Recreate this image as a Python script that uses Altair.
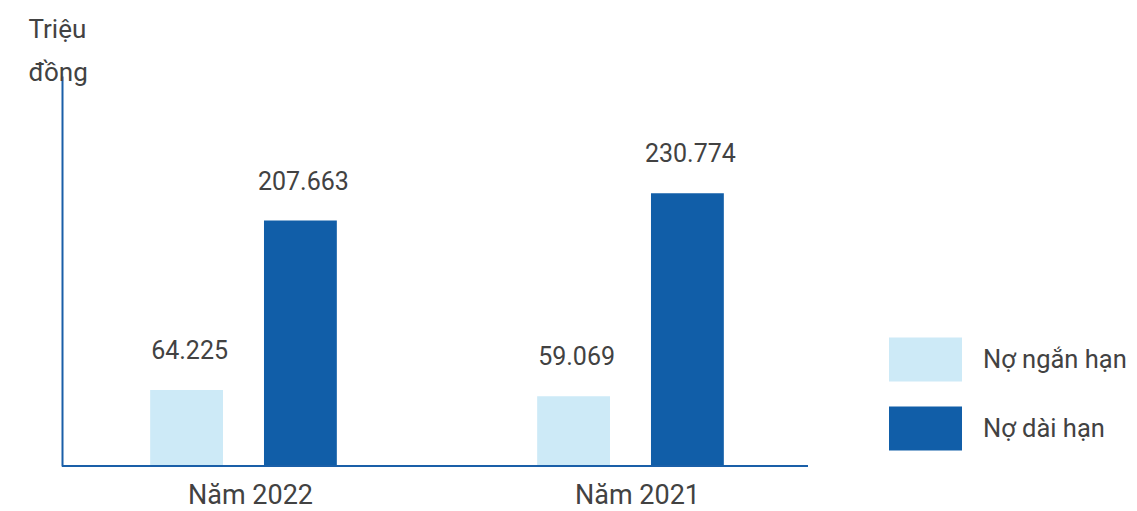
import altair as alt
import pandas as pd

years = ["Năm 2022", "Năm 2021"]
series = ["Nợ ngắn hạn", "Nợ dài hạn"]
short_term = [64225, 59069]
long_term = [207663, 230774]
labels_short = ["64.225", "59.069"]
labels_long = ["207.663", "230.774"]
colors = ["#cdeaf7", "#115ea8"]

rows = []
for i, y in enumerate(years):
    rows.append({"year": y, "series": series[0], "value": short_term[i], "label": labels_short[i]})
    rows.append({"year": y, "series": series[1], "value": long_term[i], "label": labels_long[i]})
df = pd.DataFrame(rows)

FONT = "Roboto"
TXT = "#424242"
AXC = "#1a5fa8"
W, H = 746, 390

x = alt.X("year:N", sort=years,
          scale=alt.Scale(range=[-12, 762], paddingInner=0, paddingOuter=0),
          axis=alt.Axis(title=None, domain=False, ticks=False, labelAngle=0, labelOffset=7,
                        labelFont=FONT, labelFontSize=27, labelColor=TXT, labelPadding=16))
xo = alt.XOffset("series:N", sort=series,
                 scale=alt.Scale(paddingInner=0.36, paddingOuter=0.88))
y = alt.Y("value:Q", scale=alt.Scale(domain=[0, 330000]),
          axis=alt.Axis(title=["Triệu", "đồng"], titleAngle=0, titleAlign="left",
                        titleBaseline="alphabetic", titleX=-34, titleY=-39,
                        titleFont=FONT, titleFontSize=26, titleFontWeight="normal",
                        titleColor=TXT, titleLineHeight=43,
                        labels=False, ticks=False, grid=False,
                        domainColor=AXC, domainWidth=2))

bars = alt.Chart(df).mark_bar().encode(
    x=x, xOffset=xo, y=y,
    color=alt.Color("series:N", sort=series,
                    scale=alt.Scale(domain=series, range=colors),
                    legend=alt.Legend(title=None, orient="none", legendX=827, legendY=247,
                                      symbolType="M-1,-0.6H1V0.6H-1Z", symbolSize=5329,
                                      symbolStrokeWidth=0, labelFont=FONT, labelFontSize=25.5,
                                      labelColor=TXT, labelOffset=21, rowPadding=10,
                                      padding=0, labelLimit=300)),
)

text = alt.Chart(df).mark_text(font=FONT, fontSize=25, color=TXT, baseline="alphabetic", dy=-31, dx=3).encode(
    x=x, xOffset=xo, y=y, text="label:N"
)

base = alt.Chart(df).mark_rule(color=AXC, strokeWidth=2).encode(
    x=alt.value(0), x2=alt.value(W), y=alt.value(H)
)

chart = alt.layer(bars, text, base).properties(
    width=W, height=H,
    autosize=alt.AutoSizeParams(type="none"),
    padding={"left": 54, "top": 68, "right": 321, "bottom": 45},
).configure_view(stroke=None)

chart.save("out.html", embed_options={"renderer": "svg", "actions": False})
